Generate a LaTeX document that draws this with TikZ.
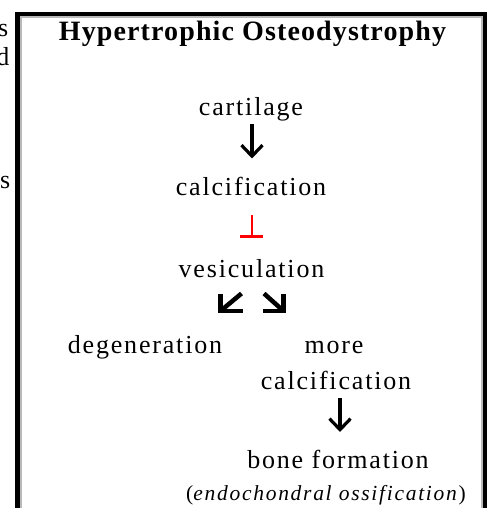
\documentclass[tikz,border=0pt]{standalone}
\usepackage{fontspec}
\setmainfont{Liberation Serif}
\newfontfamily\bodyfont[LetterSpace=7]{Liberation Serif}
\newfontfamily\titlefont[LetterSpace=4]{Liberation Serif}
\newfontfamily\notefont[LetterSpace=8]{Liberation Serif}
\usetikzlibrary{arrows.meta}
\begin{document}
\begin{tikzpicture}[x=1pt,y=-1pt,
  body/.style={font={\bodyfont\fontsize{26}{30}\selectfont}, inner sep=0pt, anchor=base},
  titletext/.style={font={\titlefont\bfseries\fontsize{28}{32}\selectfont}, inner sep=0pt, anchor=base},
  notetext/.style={font={\notefont\fontsize{21.5}{25}\selectfont}, inner sep=0pt, anchor=base},
  frag/.style={font={\fontsize{26}{30}\selectfont}, inner sep=0pt, anchor=base east},
  downarrow/.style={line width=3.2pt, -{Straight Barb[length=11pt,width=21pt]}},
  diagarrow/.style={line width=4.5pt, line join=miter, line cap=butt},
  inhib/.style={red, line width=2pt},
  inhibbar/.style={red, line width=2.4pt}
]
\useasboundingbox (0,0) rectangle (489,508);
\clip (0,0) rectangle (489,508);
\fill[white] (0,0) rectangle (489,508);

% fragments of neighbouring text
\node[frag] (f1) at (8.5,37) {s};
\node[frag] (f2) at (9.5,66) {d};
\node[frag] (f3) at (10.5,188) {s};

% frame
\fill[black] (15,12) rectangle (487,16.5);
\fill[black] (15,12) rectangle (20,510);
\fill[black] (482.8,12) rectangle (487,510);
\fill[gray!55] (20,16.5) rectangle (482.8,18.5);
\fill[gray!55] (20,16.5) rectangle (22,510);
\fill[gray!55] (480.5,16.5) rectangle (482.8,510);

% title
\node[titletext] (title) at (252.5,41) {Hypertrophic Osteodystrophy};

% main chain
\node[body] (cart) at (251,116) {cartilage};
\node[body] (calc) at (251,195) {calcification};
\node[body] (vesic) at (251.5,277) {vesiculation};
\node[body] (degen) at (145,353) {degeneration};
\node[body] (more) at (334,353) {more};
\node[body] (calc2) at (336,389) {calcification};
\node[body] (bone) at (338,468) {bone formation};
\node[notetext] (endo) at (326,500) {(\textit{endochondral ossification})};

% arrow cartilage -> calcification
\coordinate (a1s) at (252,124);
\coordinate (a1e) at (252,158.5);
\draw[downarrow] (a1s) -- (a1e);

% inhibition calcification -| vesiculation
\coordinate (i1s) at (251.5,215);
\coordinate (i1e) at (251.5,236.5);
\coordinate (i1l) at (240,236.5);
\coordinate (i1r) at (263,236.5);
\draw[inhib] (i1s) -- (i1e);
\draw[inhibbar] (i1l) -- (i1r);

% diagonal arrows
\coordinate (d1s) at (241.5,293.5);
\coordinate (d1c) at (220.5,311);
\draw[diagarrow] (d1s) -- (d1c);
\draw[diagarrow] (220.5,293.5) -- (d1c) -- (242.5,311);

\coordinate (d2s) at (264,293.5);
\coordinate (d2c) at (283.5,311);
\draw[diagarrow] (d2s) -- (d2c);
\draw[diagarrow] (283.5,293.5) -- (d2c) -- (262.5,311);

% arrow more calcification -> bone formation
\coordinate (a2s) at (340,398);
\coordinate (a2e) at (340,432);
\draw[downarrow] (a2s) -- (a2e);
\end{tikzpicture}
\end{document}
